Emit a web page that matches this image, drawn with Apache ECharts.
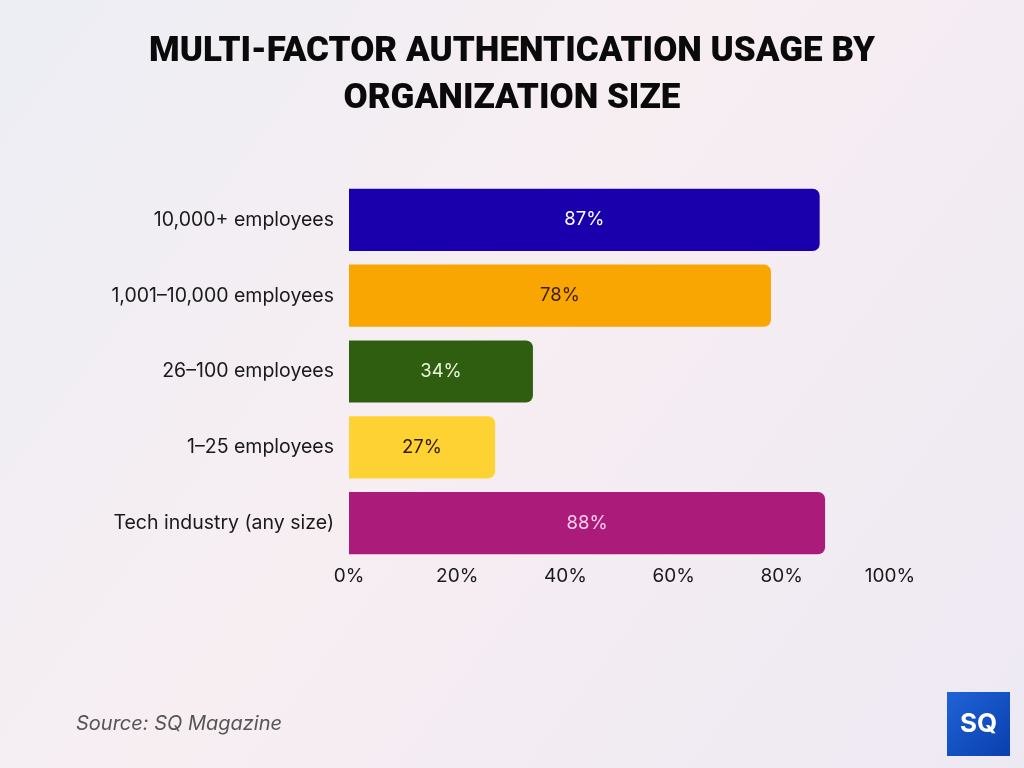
<!DOCTYPE html>
<html>
<head>
<meta charset="utf-8">
<script src="https://cdn.jsdelivr.net/npm/echarts@6/dist/echarts.min.js"></script>
<style>
  html, body { margin: 0; padding: 0; }
  #chart { width: 1024px; height: 768px; }
</style>
</head>
<body>
<div id="chart"></div>
<script>
const categories = ['10,000+ employees', '1,001–10,000 employees', '26–100 employees', '1–25 employees', 'Tech industry (any size)'];
const values = [87, 78, 34, 27, 88];
const barColors = ['#1a00ad', '#f9a603', '#2f5e11', '#fed232', '#ab1c7a'];
const labelColors = ['#ffffff', '#3a1c05', '#e8f5d8', '#2a1a05', '#fbd0ee'];
const tickValues = [0, 20, 40, 60, 80, 100];

const chart = echarts.init(document.getElementById('chart'));

const option = {
  backgroundColor: new echarts.graphic.LinearGradient(0, 0, 1, 1, [
    { offset: 0, color: '#eceef4' },
    { offset: 0.45, color: '#f7eef2' },
    { offset: 1, color: '#ede9f3' }
  ]),
  title: {
    text: 'MULTI-FACTOR AUTHENTICATION USAGE BY\nORGANIZATION SIZE',
    left: 'center',
    top: 24,
    textStyle: {
      fontFamily: 'Roboto',
      fontWeight: 900,
      fontSize: 35,
      lineHeight: 47,
      color: '#0a0a0a'
    }
  },
  grid: {
    left: 349,
    right: 134,
    top: 182,
    bottom: 207,
    containLabel: false
  },
  xAxis: {
    type: 'value',
    min: 0,
    max: 100,
    interval: 20,
    splitLine: { show: false },
    axisLine: { show: false },
    axisTick: { show: false },
    axisLabel: {
      formatter: function (v) { return tickValues.indexOf(v) >= 0 ? v + '%' : ''; },
      color: '#1a1a1a',
      fontFamily: 'Inter',
      fontSize: 19,
      margin: 6
    }
  },
  yAxis: {
    type: 'category',
    inverse: true,
    data: categories,
    axisLine: { show: false },
    axisTick: { show: false },
    axisLabel: {
      color: '#1a1a1a',
      fontFamily: 'Inter',
      fontSize: 19.5,
      margin: 15
    }
  },
  series: [
    {
      type: 'bar',
      barCategoryGap: '18%',
      data: values.map(function (v, i) {
        return {
          value: v,
          itemStyle: { color: barColors[i], borderRadius: [0, 7, 7, 0] },
          label: { color: labelColors[i] }
        };
      }),
      label: {
        show: true,
        position: 'inside',
        formatter: '{c}%',
        fontFamily: 'Inter',
        fontSize: 18.5
      }
    }
  ],
  graphic: [
    {
      type: 'text',
      left: 76,
      top: 714,
      style: {
        text: 'Source: SQ Magazine',
        fill: '#555555',
        font: 'italic 20px Inter'
      }
    },
    {
      type: 'group',
      left: 947,
      top: 692,
      children: [
        {
          type: 'rect',
          shape: { x: 0, y: 0, width: 63, height: 64 },
          style: {
            fill: new echarts.graphic.LinearGradient(0, 0, 1, 1, [
              { offset: 0, color: '#1f63d6' },
              { offset: 1, color: '#0a3fae' }
            ])
          }
        },
        {
          type: 'text',
          x: 31.5,
          y: 32,
          style: {
            text: 'SQ',
            fill: '#ffffff',
            font: 'bold 26px Inter',
            align: 'center',
            verticalAlign: 'middle'
          }
        }
      ]
    }
  ]
};

chart.setOption(option);
</script>
</body>
</html>
